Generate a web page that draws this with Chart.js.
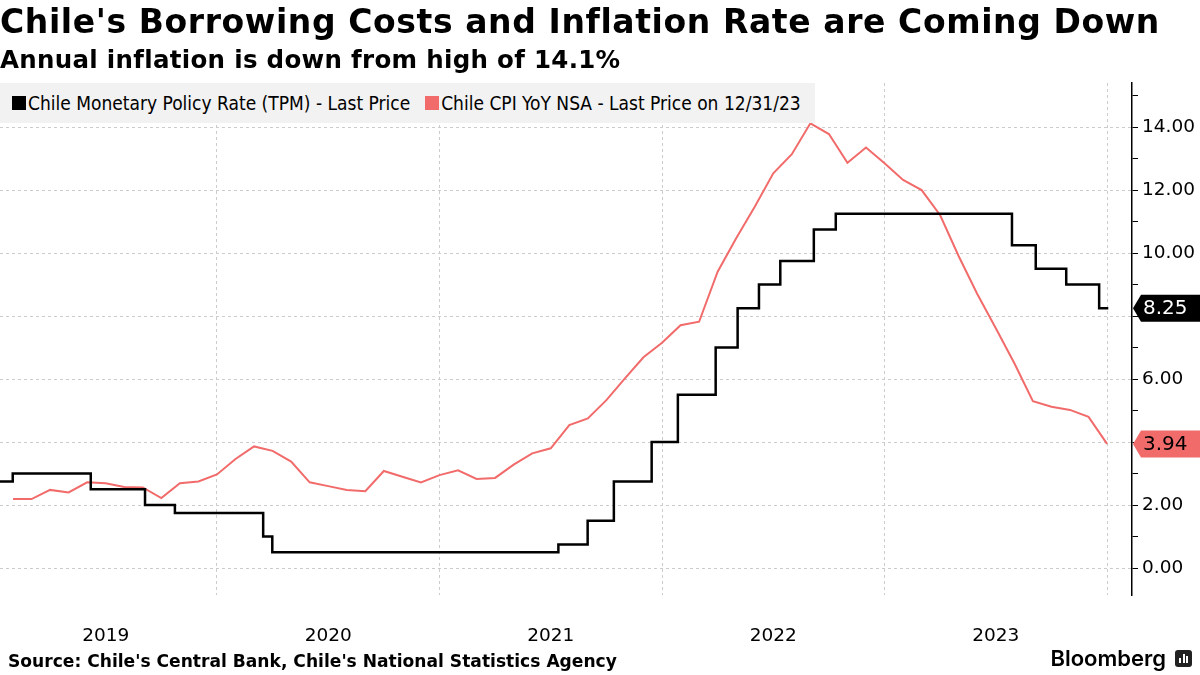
<!DOCTYPE html>
<html>
<head>
<meta charset="utf-8">
<script src="https://cdn.jsdelivr.net/npm/chart.js@4.4.1/dist/chart.umd.min.js"></script>
<style>
  html, body { margin: 0; padding: 0; background: #fff; }
  #wrap { position: relative; width: 1200px; height: 675px; overflow: hidden; font-family: "DejaVu Sans", sans-serif; }
  #chart { position: absolute; left: 0; top: 0; }
  .title { position: absolute; left: 0; top: 2px; font-size: 33px; letter-spacing: 0.6px; font-weight: bold; white-space: nowrap; }
  .sub { position: absolute; left: 0; top: 45px; font-size: 24.5px; letter-spacing: 0.3px; font-weight: bold; white-space: nowrap; }
  .legend { position: absolute; left: 0; top: 83px; width: 815px; height: 40px; background: #f2f2f2;
            font-family: "DejaVu Sans Condensed", "Liberation Sans Narrow", "DejaVu Sans", sans-serif; font-size: 19px;
            display: flex; align-items: center; white-space: nowrap; }
  .legend .sw { display: inline-block; width: 14px; height: 14px; margin: 0 2px 0 12px; }
  .legend .sw2 { margin-left: 15px; }
  .source { position: absolute; left: 8px; top: 651px; font-size: 17.1px; font-weight: bold; white-space: nowrap; }
  .logo { position: absolute; right: 8px; top: 645px; font-family: "Inter", "Open Sans", sans-serif; font-size: 22px; font-weight: 600; display: flex; align-items: center; }
  .logo .ic { display: inline-block; width: 17px; height: 17px; background: #222; border-radius: 3px; margin-left: 9px; position: relative; }
  .logo .ic i { position: absolute; bottom: 4px; width: 2px; background: #fff; }
</style>
</head>
<body>
<div id="wrap">
  <canvas id="chart" width="1200" height="675"></canvas>
  <div class="title">Chile's Borrowing Costs and Inflation Rate are Coming Down</div>
  <div class="sub">Annual inflation is down from high of 14.1%</div>
  <div class="legend">
    <span class="sw" style="background:#000"></span><span>Chile Monetary Policy Rate (TPM) - Last Price</span>
    <span class="sw sw2" style="background:#f26b6b"></span><span>Chile CPI YoY NSA - Last Price on 12/31/23</span>
  </div>
  <div class="source">Source: Chile's Central Bank, Chile's National Statistics Agency</div>
  <div class="logo">Bloomberg<span class="ic"><i style="left:4px;height:5px"></i><i style="left:7.5px;height:9px"></i><i style="left:11px;height:7px"></i></span></div>
</div>
<script>
// policy rate: date of each change and the new level
const tpmFechas = ['2019-01-10', '2019-01-31', '2019-06-08', '2019-09-05', '2019-10-24', '2020-03-17', '2020-04-01',
  '2021-07-15', '2021-09-01', '2021-10-14', '2021-12-15', '2022-01-27', '2022-03-30', '2022-05-05', '2022-06-09',
  '2022-07-14', '2022-09-07', '2022-10-13', '2023-07-29', '2023-09-06', '2023-10-26', '2023-12-19', '2024-01-03'];
const tpmValores = [2.75, 3.0, 2.5, 2.0, 1.75, 1.0, 0.5,
  0.75, 1.5, 2.75, 4.0, 5.5, 7.0, 8.25, 9.0,
  9.75, 10.75, 11.25, 10.25, 9.5, 9.0, 8.25, 8.25];

// CPI YoY, monthly Jan 2019 .. Dec 2023
const ipcInicio = 2019;
const ipcValores = [
  2.19, 2.19, 2.48, 2.40, 2.72, 2.69, 2.57, 2.56, 2.22, 2.69, 2.75, 2.97,
  3.46, 3.86, 3.72, 3.38, 2.72, 2.60, 2.48, 2.44, 3.08, 2.90, 2.72, 2.95,
  3.10, 2.83, 2.86, 3.28, 3.64, 3.80, 4.54, 4.75, 5.33, 6.02, 6.69, 7.15,
  7.71, 7.82, 9.41, 10.47, 11.47, 12.53, 13.14, 14.12, 13.78, 12.87, 13.35, 12.85,
  12.32, 12.00, 11.20, 9.90, 8.70, 7.61, 6.50, 5.30, 5.12, 5.02, 4.80, 3.94];

const anios = [2019, 2020, 2021, 2022, 2023];
const yTicks = [0, 2, 4, 6, 8, 10, 12, 14];

const NEGRO = '#000000';
const ROJO = '#f26b6b';

function anioDecimal(s) {
  const d = new Date(s + 'T00:00:00Z');
  const ini = Date.UTC(d.getUTCFullYear(), 0, 1);
  const fin = Date.UTC(d.getUTCFullYear() + 1, 0, 1);
  return d.getUTCFullYear() + (d - ini) / (fin - ini);
}

const tpmData = tpmFechas.map((f, i) => ({ x: anioDecimal(f), y: tpmValores[i] }));
const ipcData = ipcValores.map((v, i) => ({ x: ipcInicio + (i + 1) / 12, y: v }));

const X_MIN = 2019.025, X_MAX = 2024.112;

const etiquetas = {
  id: 'etiquetas',
  afterDraw(chart) {
    const { ctx, chartArea } = chart;
    const y = chart.scales.y;
    const items = [
      { v: tpmValores[tpmValores.length - 1], bg: NEGRO, fg: '#fff' },
      { v: ipcValores[ipcValores.length - 1], bg: ROJO, fg: '#000' }
    ];
    ctx.save();
    items.forEach(it => {
      const cy = y.getPixelForValue(it.v);
      const x0 = chartArea.right + 1, h = 27;
      ctx.fillStyle = it.bg;
      ctx.beginPath();
      ctx.moveTo(x0, cy);
      ctx.lineTo(x0 + 8, cy - h / 2);
      ctx.lineTo(1200, cy - h / 2);
      ctx.lineTo(1200, cy + h / 2);
      ctx.lineTo(x0 + 8, cy + h / 2);
      ctx.closePath();
      ctx.fill();
      ctx.fillStyle = it.fg;
      ctx.font = '20px "DejaVu Sans"';
      ctx.textBaseline = 'middle';
      ctx.textAlign = 'left';
      ctx.fillText(it.v.toFixed(2), x0 + 10, cy + 1);
    });
    ctx.restore();
  }
};

new Chart(document.getElementById('chart'), {
  type: 'line',
  data: {
    datasets: [
      { label: 'Chile Monetary Policy Rate (TPM) - Last Price', data: tpmData, stepped: true,
        borderColor: NEGRO, borderWidth: 2.5, pointRadius: 0, xAxisID: 'x', yAxisID: 'y' },
      { label: 'Chile CPI YoY NSA - Last Price on 12/31/23', data: ipcData,
        borderColor: ROJO, borderWidth: 2, pointRadius: 0, tension: 0, xAxisID: 'x', yAxisID: 'y' }
    ]
  },
  options: {
    responsive: false,
    animation: false,
    layout: { padding: { top: 83, left: 0, right: 0, bottom: 0 } },
    plugins: { legend: { display: false }, tooltip: { enabled: false } },
    scales: {
      x: {
        type: 'linear', min: X_MIN, max: X_MAX, position: 'bottom',
        afterBuildTicks: s => { s.ticks = [2020, 2021, 2022, 2023, 2024].map(v => ({ value: v })); },
        ticks: { display: false },
        grid: { color: '#cccccc', drawTicks: false, lineWidth: 1 },
        border: { display: false, dash: [3, 3] },
        afterFit: s => { s.height = 0; }
      },
      x2: {
        type: 'linear', min: X_MIN, max: X_MAX, position: 'bottom',
        afterBuildTicks: s => { s.ticks = anios.map(a => ({ value: a + 0.5 })); },
        ticks: { callback: v => String(Math.floor(v)), color: '#000', font: { family: 'DejaVu Sans', size: 18.5 },
                 padding: 30, maxRotation: 0, autoSkip: false },
        grid: { display: false, drawTicks: false },
        border: { display: false },
        afterFit: s => { s.height = 80; }
      },
      y: {
        position: 'right', min: -0.857, max: 15.4,
        ticks: { stepSize: 1, includeBounds: false, padding: 4, color: '#000', font: { family: 'DejaVu Sans', size: 18.5 },
                 callback: v => yTicks.includes(v) ? v.toFixed(2) : '' },
        grid: {
          color: c => (c.tick && yTicks.includes(c.tick.value)) ? '#cccccc' : 'rgba(0,0,0,0)',
          tickColor: '#000', tickLength: 6, drawTicks: true
        },
        border: { display: true, color: '#000', width: 1.5, dash: [3, 3] },
        afterFit: s => { s.width = 68; }
      }
    }
  },
  plugins: [etiquetas]
});
</script>
</body>
</html>
